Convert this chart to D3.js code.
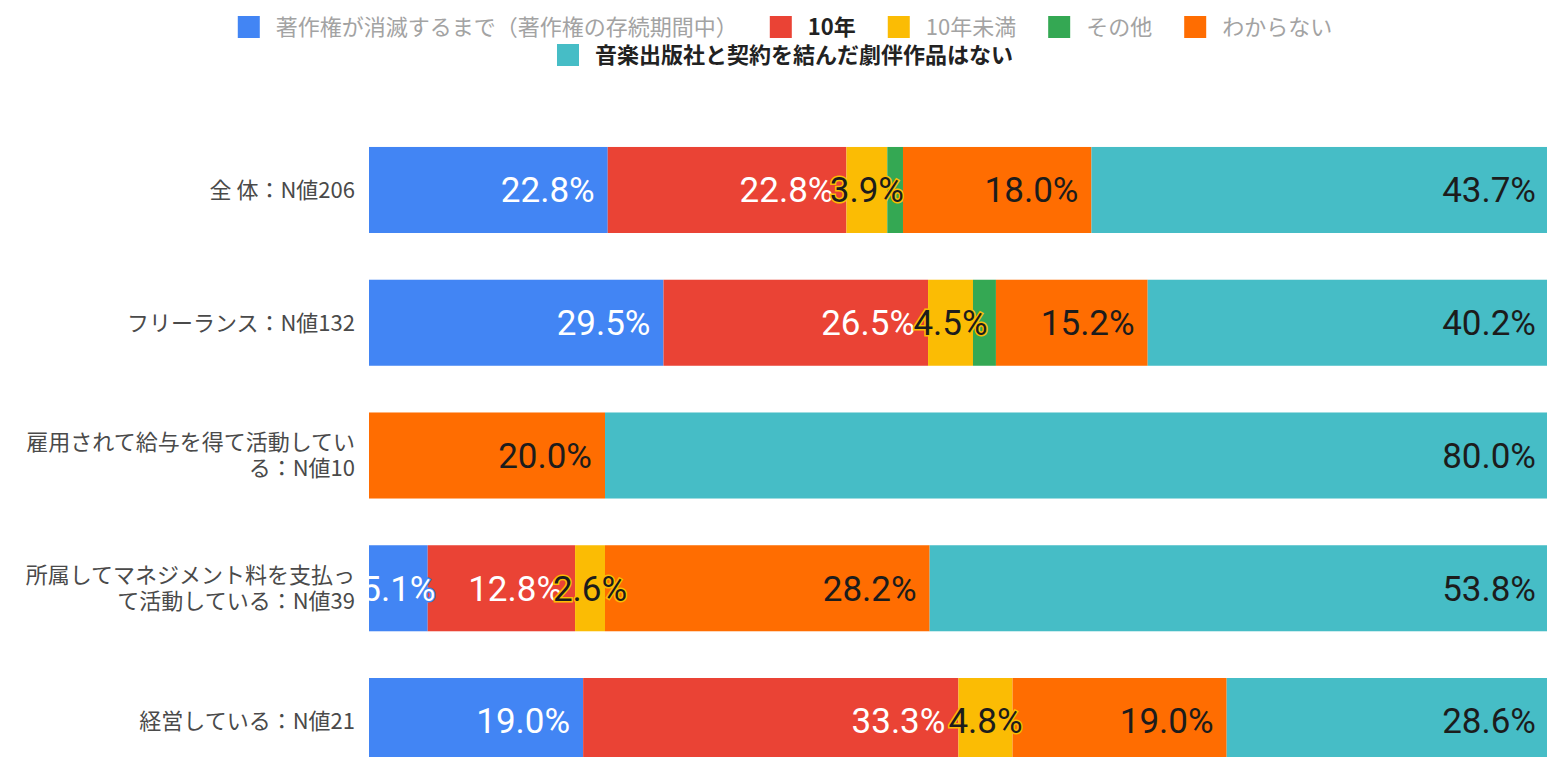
<!DOCTYPE html>
<html>
<head>
<meta charset="utf-8">
<script src="https://cdn.jsdelivr.net/npm/d3@7"></script>
<style>
  body { margin: 0; background: #fff; }
  svg { display: block; }
</style>
</head>
<body>
<div id="chart"></div>
<script>
// categories (left axis)
var categories = [
  "全 体：N値206",
  "フリーランス：N値132",
  "雇用されて給与を得て活動している：N値10",
  "所属してマネジメント料を支払って活動している：N値39",
  "経営している：N値21"
];

// series names + colours (legend order)
var seriesNames = [
  "著作権が消滅するまで（著作権の存続期間中）",
  "10年",
  "10年未満",
  "その他",
  "わからない",
  "音楽出版社と契約を結んだ劇伴作品はない"
];
var seriesColors = ["#4285F4", "#EA4335", "#FBBC04", "#34A853", "#FF6D01", "#46BDC6"];
var boldLegend = [false, true, false, false, false, true];

// values in % per category (bars are drawn as 100% stacked)
var untilExpire = [22.8, 29.5, 0, 5.1, 19.0];
var tenYears = [22.8, 26.5, 0, 12.8, 33.3];
var underTen = [3.9, 4.5, 0, 2.6, 4.8];
var other = [1.5, 2.3, 0, 0, 0];
var unknown = [18.0, 15.2, 20.0, 28.2, 19.0];
var noContract = [43.7, 40.2, 80.0, 53.8, 28.6];

var seriesValues = [untilExpire, tenYears, underTen, other, unknown, noContract];

var width = 1547, height = 757;
var plotLeft = 369, plotRight = 1549;

var svg = d3.select("#chart")
  .append("svg")
    .attr("width", width)
    .attr("height", height);

// table for d3.stack
var keys = seriesNames.map(function(d, i) { return "s" + i; });
var table = categories.map(function(c, ci) {
  var row = {cat: c};
  keys.forEach(function(k, si) { row[k] = seriesValues[si][ci]; });
  return row;
});

var stacked = d3.stack()
  .keys(keys)
  .offset(d3.stackOffsetExpand)(table);

var x = d3.scaleLinear()
  .domain([0, 1])
  .range([plotLeft, plotRight]);

var y = d3.scaleBand()
  .domain(categories)
  .range([123.6, 787.4])
  .paddingInner(0.352)
  .paddingOuter(0.176);

svg.append("clipPath")
    .attr("id", "plotclip")
  .append("rect")
    .attr("x", plotLeft)
    .attr("y", 0)
    .attr("width", plotRight - plotLeft)
    .attr("height", height);

var plot = svg.append("g").attr("clip-path", "url(#plotclip)");

// bars
plot.selectAll("g.series")
  .data(stacked)
  .enter()
  .append("g")
    .attr("class", "series")
    .attr("fill", function(d, i) { return seriesColors[i]; })
  .selectAll("rect")
  .data(function(d) { return d; })
  .enter()
  .append("rect")
    .attr("x", function(d) { return x(d[0]); })
    .attr("y", function(d) { return y(d.data.cat); })
    .attr("width", function(d) { return x(d[1]) - x(d[0]); })
    .attr("height", y.bandwidth());

// value labels: right aligned inside the segment, centred with an aura when too wide,
// skipped when they would run into the previous label
var labelG = plot.append("g")
  .style("font-family", "Roboto, 'Noto Sans', sans-serif")
  .style("font-size", "35px");

var pad = 13;
categories.forEach(function(cat, ci) {
  var prevRight = -Infinity;
  var cy = y(cat) + y.bandwidth() / 2;
  stacked.forEach(function(layer, si) {
    var v = seriesValues[si][ci];
    if (!v) return;
    var x0 = x(layer[ci][0]), x1 = x(layer[ci][1]);
    var t = labelG.append("text")
      .attr("y", cy)
      .attr("dy", "0.35em")
      .attr("fill", si < 2 ? "#ffffff" : "#1c1c1c")
      .text(v.toFixed(1) + "%");
    var w = t.node().getComputedTextLength();
    var left, right;
    if (w + pad * 2 <= x1 - x0) {
      right = x1 - pad;
      left = right - w;
      t.attr("x", right).attr("text-anchor", "end");
    } else {
      var c = (x0 + x1) / 2;
      left = c - w / 2;
      right = c + w / 2;
      t.attr("x", c).attr("text-anchor", "middle")
        .attr("stroke", seriesColors[si])
        .attr("stroke-width", 3)
        .attr("paint-order", "stroke");
    }
    if (left < prevRight - 20) {
      t.remove();
      return;
    }
    prevRight = right;
  });
});

// category labels (wrapped)
var catG = svg.append("g")
  .style("font-family", "'Noto Sans CJK JP', sans-serif")
  .style("font-size", "22px")
  .attr("fill", "#4a4a4a");

var maxLabelW = 340, lineH = 26;
categories.forEach(function(cat) {
  var t = catG.append("text")
    .attr("text-anchor", "end");
  // wrap char by char
  var lines = [], cur = "";
  var probe = catG.append("text");
  Array.from(cat).forEach(function(ch) {
    probe.text(cur + ch);
    if (probe.node().getComputedTextLength() > maxLabelW && cur.length) {
      lines.push(cur);
      cur = ch;
    } else {
      cur += ch;
    }
  });
  lines.push(cur);
  probe.remove();
  var cy = y(cat) + y.bandwidth() / 2;
  lines.forEach(function(l, li) {
    t.append("tspan")
      .attr("x", 355)
      .attr("y", cy + (li - (lines.length - 1) / 2) * lineH)
      .attr("dy", "0.36em")
      .text(l);
  });
});

// legend
var legendRows = [[0, 1, 2, 3, 4], [5]];
var legendY = [27, 55];
var legendCenter = 785;
var sq = 22, sqGap = 16, itemGap = 32;

var legend = svg.append("g")
  .style("font-family", "'Noto Sans CJK JP', sans-serif")
  .style("font-size", "22px");

legendRows.forEach(function(rowItems, ri) {
  var g = legend.append("g");
  var xpos = 0;
  rowItems.forEach(function(si, k) {
    g.append("rect")
      .attr("x", xpos)
      .attr("y", legendY[ri] - sq / 2)
      .attr("width", sq)
      .attr("height", sq)
      .attr("fill", seriesColors[si]);
    var t = g.append("text")
      .attr("x", xpos + sq + sqGap)
      .attr("y", legendY[ri])
      .attr("dy", "0.36em")
      .attr("fill", boldLegend[si] ? "#222" : "#a3a3a3")
      .style("font-weight", boldLegend[si] ? "bold" : "normal")
      .text(seriesNames[si]);
    xpos += sq + sqGap + t.node().getComputedTextLength();
    if (k < rowItems.length - 1) xpos += itemGap;
  });
  g.attr("transform", "translate(" + (legendCenter - xpos / 2) + ",0)");
});
</script>
</body>
</html>
